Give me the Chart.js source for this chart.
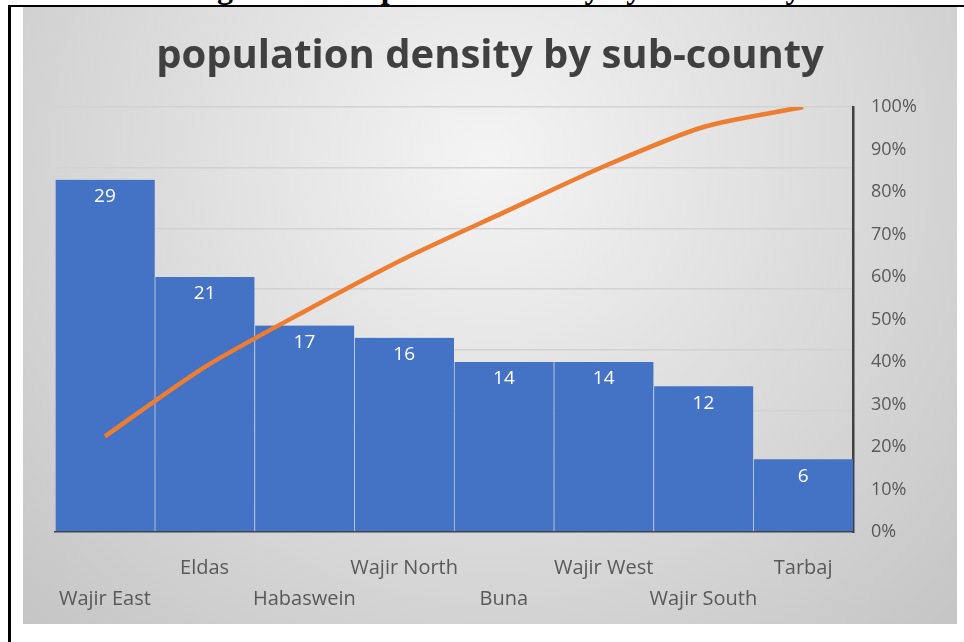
<!DOCTYPE html>
<html>
<head>
<meta charset="utf-8">
<script src="https://cdn.jsdelivr.net/npm/chart.js@4.4.0/dist/chart.umd.min.js"></script>
<style>
  html, body { margin: 0; padding: 0; background: #fff; width: 964px; height: 642px; overflow: hidden; }
  #caption { position: absolute; left: 0; top: 0; }
  #wrap { position: absolute; left: 23px; top: 7px; width: 934px; height: 617px; }
  #frame { position: absolute; left: 8px; top: 5px; width: 1000px; height: 700px;
           border-left: 3px solid #000; border-top: 2px solid #000; pointer-events: none; }
</style>
</head>
<body>
<svg id="caption" width="964" height="12">
  <text x="495" y="-2" text-anchor="middle" font-family="Liberation Serif" font-weight="bold" font-size="32">Figure 4.1: Population density by sub-county</text>
</svg>
<div id="wrap"><canvas id="pareto"></canvas></div>
<div id="frame"></div>
<script>
const subCounties = ['Wajir East', 'Eldas', 'Habaswein', 'Wajir North', 'Buna', 'Wajir West', 'Wajir South', 'Tarbaj'];
const densityValues = [29, 21, 17, 16, 14, 14, 12, 6];
const cumulativePct = [22.5, 38.8, 51.9, 64.3, 75.2, 86.0, 95.3, 100];

Chart.defaults.font.family = '"Open Sans", sans-serif';

// soft grey radial fill behind the whole chart
const chartBackground = {
  id: 'chartBackground',
  beforeDraw(chart) {
    const { ctx, width, height } = chart;
    const cx = width * 0.5, cy = height * 0.25;
    const g = ctx.createRadialGradient(cx, cy, 0, cx, cy, width * 0.72);
    g.addColorStop(0, '#f4f4f4');
    g.addColorStop(1, '#c4c4c4');
    ctx.save();
    ctx.fillStyle = g;
    ctx.fillRect(0, 0, width, height);
    ctx.restore();
  }
};

// white value text just inside the top of each bar
const barValueLabels = {
  id: 'barValueLabels',
  afterDatasetsDraw(chart) {
    const meta = chart.getDatasetMeta(1);
    const ctx = chart.ctx;
    ctx.save();
    ctx.font = '19px "Open Sans"';
    ctx.fillStyle = '#ffffff';
    ctx.textAlign = 'center';
    ctx.textBaseline = 'middle';
    meta.data.forEach((bar, i) => {
      ctx.fillText(String(densityValues[i]), bar.x, bar.y + 17);
    });
    ctx.restore();
  }
};

new Chart(document.getElementById('pareto'), {
  data: {
    labels: subCounties,
    datasets: [
      {
        type: 'line',
        label: 'Cumulative',
        data: cumulativePct,
        yAxisID: 'y2',
        borderColor: '#ED7D31',
        borderWidth: 4.5,
        pointRadius: 0,
        tension: 0.25,
        fill: false,
        order: 0
      },
      {
        type: 'bar',
        label: 'Density',
        data: densityValues,
        yAxisID: 'y',
        backgroundColor: '#4472C4',
        borderColor: 'rgba(190, 210, 240, 0.55)',
        borderWidth: { left: 1, right: 0, top: 0, bottom: 0 },
        borderSkipped: false,
        barPercentage: 1,
        categoryPercentage: 1,
        order: 1
      }
    ]
  },
  options: {
    responsive: true,
    maintainAspectRatio: false,
    animation: false,
    layout: { padding: 0 },
    plugins: {
      legend: { display: false },
      tooltip: { enabled: false },
      title: {
        display: true,
        text: 'population density by sub-county',
        color: '#404040',
        font: { size: 40, weight: 'bold', lineHeight: 1.2 },
        padding: { top: 26, bottom: 26 }
      }
    },
    scales: {
      x: {
        grid: { display: false },
        border: { display: true, color: '#404040', width: 1.5 },
        ticks: {
          color: '#595959',
          font: { size: 20, lineHeight: 1.55 },
          padding: 13,
          maxRotation: 0,
          autoSkip: false,
          // alternate rows so the long names do not collide
          callback: (v, i) => (i % 2 ? [subCounties[i], ''] : ['', subCounties[i]])
        },
        afterFit(s) { s.height = 92; }
      },
      y: {
        position: 'left',
        min: 0,
        max: 35,
        ticks: { stepSize: 5, display: false },
        grid: { color: '#d2d2d2', lineWidth: 1.5, drawTicks: false },
        border: { display: false },
        afterFit(s) { s.width = 32; }
      },
      y2: {
        position: 'right',
        min: 0,
        max: 100,
        ticks: {
          stepSize: 10,
          color: '#595959',
          font: { size: 18 },
          padding: 18,
          callback: v => v + '%'
        },
        grid: { drawOnChartArea: false, drawTicks: false },
        border: { display: true, color: '#404040', width: 2.5 },
        afterFit(s) { s.width = 104; }
      }
    }
  },
  plugins: [chartBackground, barValueLabels]
});
</script>
</body>
</html>
